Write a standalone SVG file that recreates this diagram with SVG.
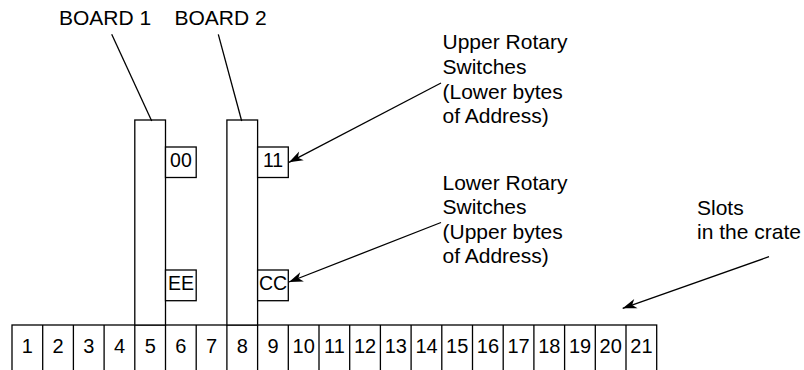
<svg xmlns="http://www.w3.org/2000/svg" width="804" height="370" viewBox="0 0 804 370">
<style>
  .ln { stroke: #000; stroke-width: 1.3; fill: none; }
  .bx { stroke: #000; stroke-width: 1.3; fill: #fff; }
  .t { font-family: "Liberation Sans", Arial, sans-serif; font-size: 21px; fill: #000; }
  .n { font-family: "Liberation Sans", Arial, sans-serif; font-size: 20px; fill: #000; text-anchor: middle; }
  .s { font-family: "Liberation Sans", Arial, sans-serif; font-size: 19.5px; fill: #000; text-anchor: middle; }
</style>
<defs>
  <marker id="ah" viewBox="-15 -6 16 12" refX="0" refY="0" markerWidth="16" markerHeight="12" markerUnits="userSpaceOnUse" orient="auto">
    <path d="M0,0 L-14,-5 L-10,0 L-14,5 Z" fill="#000"/>
  </marker>
</defs>
<rect width="804" height="370" fill="#fff"/>
<g id="crate">
  <rect class="bx" x="12" y="325" width="644.7" height="60"/>
  <path class="ln" d="M42.7,325V372 M73.4,325V372 M104.1,325V372 M134.8,325V372 M165.5,325V372 M196.2,325V372 M226.9,325V372 M257.6,325V372 M288.3,325V372 M319,325V372 M349.7,325V372 M380.4,325V372 M411.1,325V372 M441.8,325V372 M472.5,325V372 M503.2,325V372 M533.9,325V372 M564.6,325V372 M595.3,325V372 M626,325V372"/>
  <text class="n" x="27.4" y="352.5">1</text>
  <text class="n" x="58.1" y="352.5">2</text>
  <text class="n" x="88.8" y="352.5">3</text>
  <text class="n" x="119.5" y="352.5">4</text>
  <text class="n" x="150.2" y="352.5">5</text>
  <text class="n" x="180.9" y="352.5">6</text>
  <text class="n" x="211.6" y="352.5">7</text>
  <text class="n" x="242.3" y="352.5">8</text>
  <text class="n" x="273" y="352.5">9</text>
  <text class="n" x="303.7" y="352.5">10</text>
  <text class="n" x="334.4" y="352.5">11</text>
  <text class="n" x="365.1" y="352.5">12</text>
  <text class="n" x="395.8" y="352.5">13</text>
  <text class="n" x="426.5" y="352.5">14</text>
  <text class="n" x="457.2" y="352.5">15</text>
  <text class="n" x="487.9" y="352.5">16</text>
  <text class="n" x="518.6" y="352.5">17</text>
  <text class="n" x="549.3" y="352.5">18</text>
  <text class="n" x="580" y="352.5">19</text>
  <text class="n" x="610.7" y="352.5">20</text>
  <text class="n" x="641.4" y="352.5">21</text>
</g>
<g id="board1">
  <rect class="bx" x="134.8" y="120" width="30.7" height="205"/>
  <text class="t" x="59" y="25">BOARD 1</text>
</g>
<g id="board2">
  <rect class="bx" x="226.9" y="120" width="30.7" height="205"/>
  <text class="t" x="174.5" y="25">BOARD 2</text>
</g>
<g id="sw00">
  <rect class="bx" x="165.5" y="147" width="30.7" height="30.5"/>
  <text class="s" x="180.9" y="166.5">00</text>
</g>
<g id="swEE">
  <rect class="bx" x="165.5" y="270" width="30.7" height="30.7"/>
  <text class="s" x="180.9" y="289.5">EE</text>
</g>
<g id="sw11">
  <rect class="bx" x="257.6" y="147" width="30.7" height="30.5"/>
  <text class="s" x="273" y="166.5">11</text>
</g>
<g id="swCC">
  <rect class="bx" x="257.6" y="270" width="30.7" height="30.7"/>
  <text class="s" x="273" y="289.5">CC</text>
</g>
<g id="label-upper">
  <text class="t" x="442.5" y="49.3">Upper Rotary</text>
  <text class="t" x="442.5" y="74">Switches</text>
  <text class="t" x="442.5" y="98.6">(Lower bytes</text>
  <text class="t" x="442.5" y="123.2">of Address)</text>
</g>
<g id="label-lower">
  <text class="t" x="442.5" y="189.5">Lower Rotary</text>
  <text class="t" x="442.5" y="214.1">Switches</text>
  <text class="t" x="442.5" y="238.7">(Upper bytes</text>
  <text class="t" x="442.5" y="263.3">of Address)</text>
</g>
<g id="label-slots">
  <text class="t" x="697" y="215">Slots</text>
  <text class="t" x="697" y="239.3">in the crate</text>
</g>
<g id="connectors">
  <line class="ln" x1="111.7" y1="34.3" x2="151.7" y2="121"/>
  <line class="ln" x1="218.3" y1="34.3" x2="241.7" y2="121"/>
  <line class="ln" x1="441" y1="83" x2="289" y2="162.3" marker-end="url(#ah)"/>
  <line class="ln" x1="441" y1="222.5" x2="289" y2="282" marker-end="url(#ah)"/>
  <line class="ln" x1="769" y1="256.7" x2="622.7" y2="308.3" marker-end="url(#ah)"/>
</g>
</svg>
